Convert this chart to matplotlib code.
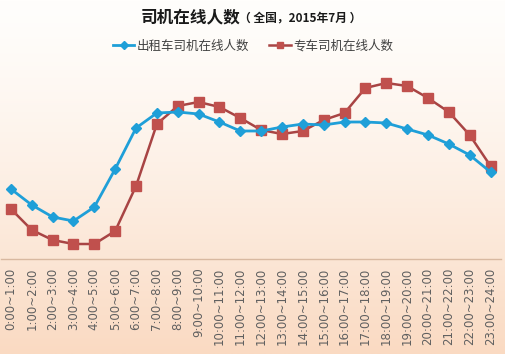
import numpy as np
import matplotlib.pyplot as plt

plt.rcParams['font.family'] = ['Noto Sans CJK SC', 'DejaVu Sans']

# -------------------------
# Dane
# -------------------------
hours = [f"{h}:00~{h + 1}:00" for h in range(24)]
taxi = [70, 54, 42, 38, 52, 90, 131, 146, 147, 145, 137, 128,
        128, 132, 135, 134, 137, 137, 136, 130, 124, 115, 104, 87]
private_car = [50, 29, 19, 15, 15, 28, 73, 135, 153, 157, 152, 141,
               129, 125, 128, 139, 146, 171, 176, 173, 161, 147, 124, 93]

title_main = "司机在线人数"
title_sub = "（ 全国，2015年7月 ）"
legend_labels = ["出租车司机在线人数", "专车司机在线人数"]

# -------------------------
# Figura + tlo z gradientem
# -------------------------
fig = plt.figure(figsize=(5.06, 3.54), dpi=100)
bg = fig.add_axes([0, 0, 1, 1], zorder=-10)
grad = np.linspace(0, 1, 256).reshape(-1, 1)
top = np.array([255, 254, 252]) / 255
bottom = np.array([250, 218, 194]) / 255
img = top + (bottom - top) * grad[..., None] ** 1.3
bg.imshow(img, aspect="auto", extent=[0, 1, 0, 1], origin="upper")
bg.axis("off")

ax = fig.add_axes([0.001, 1 - 259 / 354, 0.989, 199 / 354])
ax.patch.set_alpha(0)

x = np.arange(len(hours))
ax.plot(x, taxi, color="#1f9fd8", lw=2.0, marker="D", ms=5,
        label=legend_labels[0], zorder=3)
ax.plot(x, private_car, color="#a84444", lw=1.8, marker="s", ms=6.5,
        mfc="#c0504d", mec="#c0504d", label=legend_labels[1], zorder=2)

ax.set_xlim(-0.5, 23.5)
ax.set_ylim(0, 199)
ax.set_yticks([])
ax.set_xticks(x)
ax.set_xticklabels(hours, rotation=90, fontsize=8.5, color="#606060",
                   family=["DejaVu Sans"])
ax.tick_params(axis="x", length=0, pad=6)
for s in ["top", "right", "left"]:
    ax.spines[s].set_visible(False)
ax.spines["bottom"].set_color("#d8b8a0")
ax.spines["bottom"].set_linewidth(1)

# -------------------------
# Tytul i legenda
# -------------------------
fig.text(240 / 506, 1 - 17 / 354, title_main, ha="right", va="center",
         fontsize=12, fontweight="bold", color="#1a1a1a")
fig.text(239 / 506, 1 - 18 / 354, title_sub, ha="left", va="center",
         fontsize=8.5, fontweight="bold", color="#1a1a1a")

fig.legend(loc="center", bbox_to_anchor=(253 / 506, 1 - 46 / 354), ncol=2,
           frameon=False, fontsize=9, handlelength=1.7, markerscale=0.75,
           columnspacing=1.6, handletextpad=0.2, labelcolor="#404040")

fig.savefig("out.png", dpi=100)
